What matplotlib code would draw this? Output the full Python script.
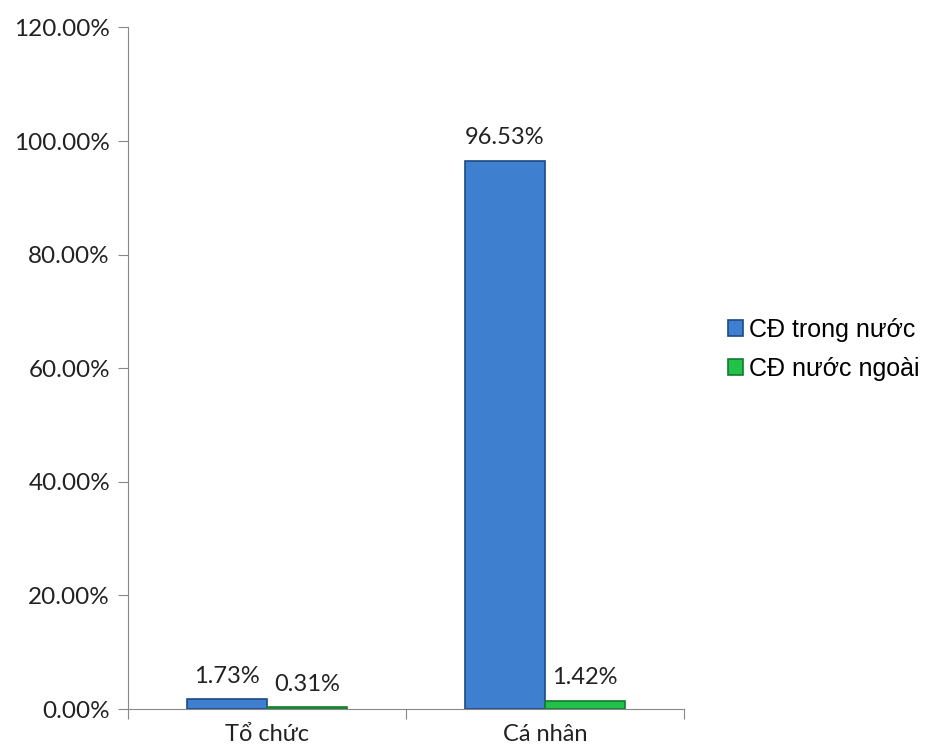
import matplotlib.pyplot as plt
import numpy as np
from matplotlib.ticker import FuncFormatter

categories = ["Tổ chức", "Cá nhân"]
series_names = ["CĐ trong nước", "CĐ nước ngoài"]
domestic = [1.73, 96.53]
foreign = [0.31, 1.42]
y_ticks = [0, 20, 40, 60, 80, 100, 120]

face_colors = ["#3f7fd0", "#22c24a"]
edge_colors = ["#1c4a86", "#137a2d"]

fig = plt.figure(figsize=(9.36, 7.53), dpi=100)
ax = fig.add_axes([0.1368, 0.0584, 0.594, 0.9052])

x = np.arange(len(categories))
width = 0.288

bars = []
for i, (vals, name) in enumerate(zip([domestic, foreign], series_names)):
    offset = (i - 0.5) * width
    b = ax.bar(x + offset, vals, width, color=face_colors[i], edgecolor=edge_colors[i],
               linewidth=1.2, label=name)
    bars.append(b)
    for rect, v in zip(b, vals):
        ax.annotate("{:.2f}%".format(v),
                    xy=(rect.get_x() + rect.get_width() / 2, v),
                    xytext=(0, 9), textcoords="offset points",
                    ha="center", va="bottom", fontsize=17, family="Lato", color="#222222")

ax.set_xlim(-0.5, 1.5)
ax.set_ylim(0, 120)
ax.set_yticks(y_ticks)
ax.yaxis.set_major_formatter(FuncFormatter(lambda v, p: "{:.2f}%".format(v)))
ax.set_xticks([-0.5, 0.5, 1.5])
ax.set_xticklabels([])
ax.set_xticks(x, minor=True)
ax.set_xticklabels(categories, minor=True)
ax.tick_params(axis="x", which="minor", length=0, pad=11, labelsize=17)
ax.tick_params(axis="x", which="major", length=7, color="#888888")
ax.tick_params(axis="y", length=7, color="#888888", labelsize=17.5, pad=6)
for lbl in ax.get_yticklabels() + ax.get_xticklabels(minor=True):
    lbl.set_family("Lato")
    lbl.set_color("#222222")

for s in ["top", "right"]:
    ax.spines[s].set_visible(False)
for s in ["left", "bottom"]:
    ax.spines[s].set_color("#888888")

leg = fig.legend(handles=bars, labels=series_names, loc="center left",
                 bbox_to_anchor=(0.778, 0.536), frameon=False,
                 borderpad=0, borderaxespad=0,
                 prop={"family": "Liberation Sans", "size": 18},
                 handlelength=0.6, handleheight=0.6, handletextpad=0.25, labelspacing=0.6)

fig.savefig("out.png", dpi=100)
